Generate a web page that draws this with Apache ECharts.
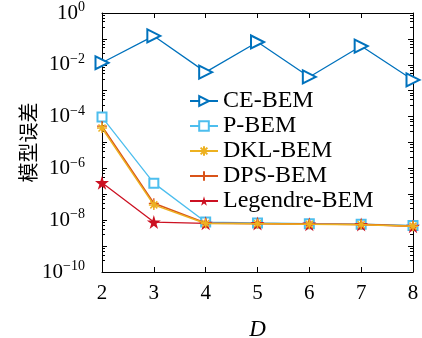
<!DOCTYPE html>
<html><head><meta charset="utf-8">
<script src="https://cdn.jsdelivr.net/npm/echarts@6/dist/echarts.min.js"></script>
<style>html,body{margin:0;padding:0;background:#fff}#c{width:422px;height:338px}</style>
</head><body><div id="c"></div>
<script>
const dValues = [2, 3, 4, 5, 6, 7, 8];
const ceBem = [1.2e-2, 0.13, 5.2e-3, 7.6e-2, 3.4e-3, 5.3e-2, 2.6e-3];
const pBem = [9.6e-5, 2.7e-7, 8.5e-9, 7.8e-9, 7.3e-9, 7.0e-9, 6.3e-9];
const dklBem = [3.6e-5, 3.9e-8, 7.5e-9, 7.3e-9, 6.9e-9, 6.7e-9, 5.9e-9];
const dpsBem = [4.3e-5, 4.5e-8, 7.8e-9, 7.5e-9, 7.1e-9, 6.9e-9, 6.0e-9];
const legendreBem = [2.8e-7, 8.5e-9, 7.6e-9, 7.4e-9, 7.0e-9, 6.8e-9, 5.8e-9];
const seriesNames = ['CE-BEM', 'P-BEM', 'DKL-BEM', 'DPS-BEM', 'Legendre-BEM'];
const yLabelExps = [0, -2, -4, -6, -8, -10];

const pairs = arr => dValues.map((d, i) => [d, arr[i]]);
const serif = '"Liberation Serif", "DejaVu Serif", serif';
const starPath = 'path://M50,0 L61,35 L98,35 L68,57 L79,91 L50,70 L21,91 L32,57 L2,35 L39,35 Z';
const astPath = 'path://M5,0 L5,10 M0,5 L10,5 M1.5,1.5 L8.5,8.5 M8.5,1.5 L1.5,8.5';
const plusPath = 'path://M5,0 L5,10 M0,5 L10,5';

const chart = echarts.init(document.getElementById('c'), null, {renderer: 'canvas'});
const axisCommon = {
  axisLine: {show: true, lineStyle: {color: '#000', width: 1}},
  axisTick: {show: true, inside: true, length: 5, lineStyle: {color: '#000'}},
  splitLine: {show: false}
};
const minorCommon = {show: true, splitNumber: 5, length: 3, lineStyle: {color: '#000'}};
chart.setOption({
  animation: false,
  grid: {left: 102, right: 9, top: 13, bottom: 66, containLabel: false, outerBoundsMode: 'none'},
  legend: {
    orient: 'vertical', left: 184, top: 84,
    itemWidth: 28, itemHeight: 12, itemGap: 1,
    data: seriesNames,
    textStyle: {fontFamily: serif, fontSize: 24, color: '#000', lineHeight: 24}
  },
  xAxis: [{
    type: 'value', min: 2, max: 8, interval: 1,
    ...axisCommon,
    axisLabel: {fontFamily: serif, fontSize: 21, color: '#000', margin: 11},
    name: 'D', nameLocation: 'middle', nameGap: 46, nameMoveOverlap: false,
    nameTextStyle: {fontFamily: serif, fontStyle: 'italic', fontSize: 23, color: '#000'}
  }, {
    type: 'value', min: 2, max: 8, interval: 1, position: 'top',
    ...axisCommon, axisLabel: {show: false}
  }],
  yAxis: [{
    type: 'log', logBase: 10, min: 1e-10, max: 1, interval: 1,
    ...axisCommon,
    minorTick: minorCommon,
    axisLabel: {
      fontFamily: serif, fontSize: 21, color: '#000', margin: 17,
      showMinLabel: true, showMaxLabel: true,
      formatter: v => {
        const e = Math.round(Math.log10(v));
        if (!yLabelExps.includes(e)) return '';
        return '10{s|' + (e < 0 ? '\u2212' + (-e) : e) + '}';
      },
      rich: {s: {fontFamily: serif, fontSize: 14, color: '#000', verticalAlign: 'bottom', padding: [0, 0, 11, 0]}}
    },
    name: '模型误差', nameLocation: 'middle', nameGap: 64, nameRotate: 90, nameMoveOverlap: false,
    nameTextStyle: {fontFamily: '"Noto Sans CJK SC", sans-serif', fontSize: 20, color: '#000'}
  }, {
    type: 'log', logBase: 10, min: 1e-10, max: 1, interval: 1, position: 'right',
    ...axisCommon, minorTick: minorCommon, axisLabel: {show: false}
  }],
  series: [
    {name: 'CE-BEM', type: 'line', data: pairs(ceBem), color: '#0072BD', z: 2,
     symbol: 'emptyTriangle', symbolRotate: -90, symbolSize: 13,
     lineStyle: {width: 1.3}, itemStyle: {borderWidth: 1.3}},
    {name: 'P-BEM', type: 'line', data: pairs(pBem), color: '#4DBEEE', z: 3,
     symbol: 'emptyRect', symbolSize: 9,
     lineStyle: {width: 1.3}, itemStyle: {borderWidth: 1.3}},
    {name: 'DKL-BEM', type: 'line', data: pairs(dklBem), color: '#EDB120', z: 6,
     symbol: astPath, symbolSize: 10,
     lineStyle: {width: 1.5}, itemStyle: {borderColor: '#EDB120', borderWidth: 1.5}},
    {name: 'DPS-BEM', type: 'line', data: pairs(dpsBem), color: '#D95319', z: 5,
     symbol: plusPath, symbolSize: 10,
     lineStyle: {width: 1.5}, itemStyle: {borderColor: '#D95319', borderWidth: 1.3}},
    {name: 'Legendre-BEM', type: 'line', data: pairs(legendreBem), color: '#CC1122', z: 4,
     symbol: starPath, symbolSize: 14,
     lineStyle: {width: 1.3}, itemStyle: {borderWidth: 0}}
  ]
});
</script></body></html>
